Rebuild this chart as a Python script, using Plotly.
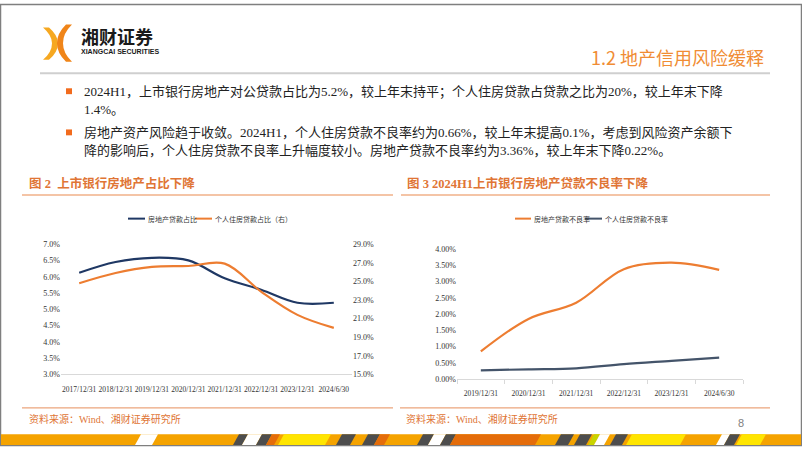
import plotly.graph_objects as go

W, H = 802, 451

# ---------------- data ----------------
cats1 = ["2017/12/31", "2018/12/31", "2019/12/31", "2020/12/31",
         "2021/12/31", "2022/12/31", "2023/12/31", "2024/6/30"]
re_loan_share = [6.12, 6.45, 6.58, 6.50, 5.95, 5.60, 5.20, 5.20]        # 房地产贷款占比 (%)
mortgage_share = [24.8, 25.9, 26.55, 26.65, 26.9, 23.9, 21.4, 20.0]    # 个人住房贷款占比 (%, 右轴)
name1a = "房地产贷款占比"
name1b = "个人住房贷款占比（右）"

cats2 = ["2019/12/31", "2020/12/31", "2021/12/31", "2022/12/31", "2023/12/31", "2024/6/30"]
re_npl = [0.85, 1.85, 2.35, 3.38, 3.58, 3.36]        # 房地产贷款不良率 (%)
mortgage_npl = [0.27, 0.30, 0.33, 0.46, 0.56, 0.66]  # 个人住房贷款不良率 (%)
name2a = "房地产贷款不良率"
name2b = "个人住房贷款不良率"

left_ticks1 = [3.0, 3.5, 4.0, 4.5, 5.0, 5.5, 6.0, 6.5, 7.0]
right_ticks1 = [15.0, 17.0, 19.0, 21.0, 23.0, 25.0, 27.0, 29.0]
ticks2 = [0.0, 0.5, 1.0, 1.5, 2.0, 2.5, 3.0, 3.5, 4.0]

bullet1 = ["2024H1，上市银行房地产对公贷款占比为5.2%，较上年末持平；个人住房贷款占贷款之比为20%，较上年末下降",
           "1.4%。"]
bullet2 = ["房地产资产风险趋于收敛。2024H1，个人住房贷款不良率约为0.66%，较上年末提高0.1%，考虑到风险资产余额下",
           "降的影响后，个人住房贷款不良率上升幅度较小。房地产贷款不良率约为3.36%，较上年末下降0.22%。"]
title1 = "图 2  上市银行房地产占比下降"
title2 = "图 3 2024H1上市银行房地产贷款不良率下降"
source_txt = "资料来源：Wind、湘财证券研究所"
header_title = "1.2 地产信用风险缓释"

# ---------------- style ----------------
BLUE = "#1F3864"
ORANGE = "#ED7D31"
DARK = "#44546A"
SERIF = "Liberation Serif, Noto Sans CJK SC, serif"
CJK = "Noto Sans CJK SC, sans-serif"


def px(x):
    return x / W


def py(y):
    return 1 - y / H


fig = go.Figure()

fig.add_trace(go.Scatter(x=cats1, y=re_loan_share, name=name1a, mode="lines",
                         line=dict(color=BLUE, width=2.2, shape="spline"),
                         xaxis="x", yaxis="y", showlegend=False))
fig.add_trace(go.Scatter(x=cats1, y=mortgage_share, name=name1b, mode="lines",
                         line=dict(color=ORANGE, width=2.2, shape="spline"),
                         xaxis="x", yaxis="y2", showlegend=False))
fig.add_trace(go.Scatter(x=cats2, y=re_npl, name=name2a, mode="lines",
                         line=dict(color=ORANGE, width=2.2, shape="spline"),
                         xaxis="x2", yaxis="y3", showlegend=False))
fig.add_trace(go.Scatter(x=cats2, y=mortgage_npl, name=name2b, mode="lines",
                         line=dict(color=DARK, width=2.2, shape="spline"),
                         xaxis="x2", yaxis="y3", showlegend=False))

tickfont = dict(family=SERIF, size=8, color="#333333")
xtickfont = dict(family=SERIF, size=7.5, color="#333333")

fig.update_layout(
    width=W, height=H, autosize=False,
    margin=dict(l=0, r=0, t=0, b=0),
    paper_bgcolor="white", plot_bgcolor="rgba(0,0,0,0)",
    xaxis=dict(domain=[px(61), px(352)], anchor="y", type="category",
               range=[-0.5, len(cats1) - 0.5], showgrid=False, zeroline=False,
               showline=True, linecolor="#D9D9D9", linewidth=1, ticks="",
               tickangle=0, ticklabelstandoff=8,
               tickfont=xtickfont, fixedrange=True),
    yaxis=dict(domain=[py(378), py(245)], anchor="x", range=[3, 7],
               tickvals=left_ticks1, ticktext=[f"{v:.1f}%" for v in left_ticks1],
               showgrid=False, zeroline=False, showline=False, ticks="",
               tickfont=tickfont),
    yaxis2=dict(overlaying="y", side="right", anchor="x", range=[15, 29],
                tickvals=right_ticks1, ticktext=[f"{v:.1f}%" for v in right_ticks1],
                showgrid=False, zeroline=False, showline=False, ticks="",
                tickfont=tickfont),
    xaxis2=dict(domain=[px(457), px(743)], anchor="y3", type="category",
                range=[-0.5, len(cats2) - 0.5], showgrid=False, zeroline=False,
                showline=True, linecolor="#D9D9D9", linewidth=1,
                ticks="outside", tickson="boundaries", ticklen=4, tickcolor="#D9D9D9",
                tickangle=0, ticklabelstandoff=7,
                tickfont=xtickfont),
    yaxis3=dict(domain=[py(382.7), py(250)], anchor="x2", range=[0, 4],
                tickvals=ticks2, ticktext=[f"{v:.2f}%" for v in ticks2],
                showgrid=False, zeroline=False, showline=False, ticks="",
                tickfont=tickfont),
)

shapes = []
annotations = []


def rect(x0, y0, x1, y1, fill, line=None, lw=0):
    shapes.append(dict(type="rect", xref="paper", yref="paper",
                       x0=px(x0), x1=px(x1), y0=py(y1), y1=py(y0),
                       fillcolor=fill, line=dict(color=line or fill, width=lw), layer="above"))


def hline(x0, x1, y, color, w):
    shapes.append(dict(type="line", xref="paper", yref="paper",
                       x0=px(x0), x1=px(x1), y0=py(y), y1=py(y),
                       line=dict(color=color, width=w)))


def poly(points, fill):
    d = "M " + " L ".join(f"{px(x):.5f},{py(y):.5f}" for x, y in points) + " Z"
    shapes.append(dict(type="path", xref="paper", yref="paper", path=d,
                       fillcolor=fill, line=dict(width=0), layer="above"))


def curve(cmds, fill):
    parts = []
    for letter, pts in cmds:
        parts.append(letter + " " + " ".join(f"{px(x):.5f},{py(y):.5f}" for x, y in pts))
    d = " ".join(parts) + " Z"
    shapes.append(dict(type="path", xref="paper", yref="paper", path=d,
                       fillcolor=fill, line=dict(width=0), layer="above"))


def text(x, y, s, size, color, family=SERIF, anchor="left"):
    annotations.append(dict(xref="paper", yref="paper", x=px(x), y=py(y), text=s,
                            showarrow=False, xanchor=anchor, yanchor="middle",
                            font=dict(family=family, size=size, color=color)))


# slide border
shapes.append(dict(type="rect", xref="paper", yref="paper", x0=px(0.5), x1=px(801.5),
                   y0=py(450.5), y1=py(0.5), line=dict(color="#7F7F7F", width=1.5),
                   fillcolor="rgba(0,0,0,0)"))

# logo (two curved chevrons)
curve([("M", [(43, 24)]), ("L", [(49, 24)]), ("Q", [(58, 32), (58, 40)]),
       ("Q", [(58, 49), (49, 57)]), ("L", [(43, 57)]),
       ("Q", [(52, 49), (52, 40)]), ("Q", [(52, 32), (43, 24)])], "#F6A821")
curve([("M", [(72, 21)]), ("L", [(66, 21)]), ("Q", [(57, 30), (57, 40)]),
       ("Q", [(57, 50), (66, 59)]), ("L", [(72, 59)]),
       ("Q", [(63, 50), (63, 40)]), ("Q", [(63, 30), (72, 21)])], "#F08519")
text(79, 33, "<b>湘财证券</b>", 18, "#1A1A1A", CJK)
text(79, 48, "<b>XIANGCAI SECURITIES</b>", 7, "#1A1A1A", "Liberation Sans, Arial, sans-serif")

# header title + rule
text(766, 54, header_title, 18, "#F08C34", CJK, anchor="right")
hline(40, 770, 70.7, "#CFCFCF", 2)

# bullets
rect(66, 86, 72, 92, "#F26B1D")
rect(66, 128, 72, 134, "#F26B1D")
text(82, 90, bullet1[0], 13, "#222222")
text(82, 108, bullet1[1], 13, "#222222")
text(82, 131, bullet2[0], 13, "#222222")
text(82, 149, bullet2[1], 13, "#222222")

# chart titles + rules
text(27, 183, f"<b>{title1}</b>", 12.5, "#E07535")
text(405, 183, f"<b>{title2}</b>", 12.5, "#E07535")
hline(22, 393, 195, "#F0B088", 1.5)
hline(401, 770, 195, "#F0B088", 1.5)

# legends (manual, compact line samples)
hline(128, 145, 219, BLUE, 2)
text(146, 219, name1a, 7, "#333333", CJK)
hline(195, 212, 219, ORANGE, 2)
text(213, 219, name1b, 7, "#333333", CJK)
hline(515, 531, 219, ORANGE, 2)
text(532, 219, name2a, 7, "#333333", CJK)
hline(585, 602, 219, DARK, 2)
text(603, 219, name2b, 7, "#333333", CJK)

# footer rules and sources
hline(22, 393, 412, "#EBA57C", 1.2)
hline(400, 770, 412, "#EBA57C", 1.2)
text(27, 423, source_txt, 10, "#E07535")
text(404, 423, source_txt, 10, "#E07535")
text(736, 428, "8", 11, "#808080", "Liberation Sans, Arial, sans-serif")

# bottom decorative stripe
rect(1, 439, 801, 450, "#F5A300")
stripes = [
    (135, 152, "#FFFFFF"), (233, 242, "#4D4D4D"), (242, 256, "#FFFFFF"),
    (256, 266, "#4D4D4D"), (266, 274, "#E46C0A"), (278, 325, "#FFE500"),
    (336, 350, "#4D4D4D"), (362, 374, "#4D4D4D"), (374, 384, "#E46C0A"),
    (417, 428, "#4D4D4D"), (428, 440, "#FFFFFF"), (440, 450, "#4D4D4D"),
    (450, 535, "#E46C0A"), (555, 568, "#4D4D4D"), (574, 586, "#4D4D4D"),
    (588, 594, "#C8D400"), (594, 604, "#FFFFFF"), (610, 622, "#4D4D4D"),
    (626, 680, "#FFE500"), (716, 724, "#FFFFFF"), (724, 734, "#4D4D4D"),
    (736, 760, "#FFE500"),
]
for x0, x1, c in stripes:
    poly([(x0, 450), (x1, 450), (x1 + 6, 439), (x0 + 6, 439)], c)

fig.update_layout(shapes=shapes, annotations=annotations)

fig.write_html("out.html")
